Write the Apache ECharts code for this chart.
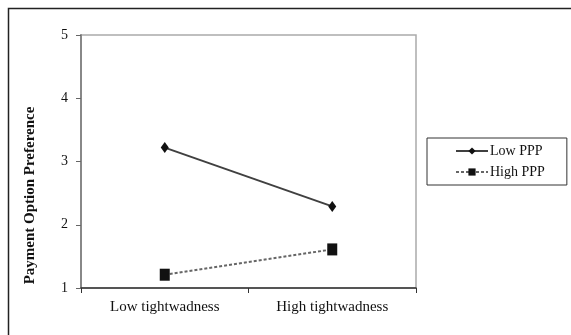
<!DOCTYPE html>
<html>
<head>
<meta charset="utf-8">
<script src="https://cdn.jsdelivr.net/npm/echarts@6/dist/echarts.min.js"></script>
<style>
  html, body { margin: 0; padding: 0; background: #fff; }
  #chart { width: 571px; height: 335px; }
</style>
</head>
<body>
<div id="chart"></div>
<script>
const categories = ['Low tightwadness', 'High tightwadness']
const lowPPP = [3.22, 2.29]
const highPPP = [1.21, 1.61]
const yTicks = [1, 2, 3, 4, 5]

const FONT = '"Liberation Serif", "Times New Roman", serif'

const chart = echarts.init(document.getElementById('chart'))

chart.setOption({
  animation: false,
  backgroundColor: '#fff',
  // outer frame, runs off the right and bottom of the picture
  graphic: [{
    type: 'rect',
    shape: { x: 8.5, y: 8.5, width: 600, height: 400 },
    style: { fill: 'none', stroke: '#222', lineWidth: 1.5 },
    silent: true
  }],
  grid: {
    left: 81, right: 155, top: 35, bottom: 47,
    show: true,
    borderColor: '#aaa',
    borderWidth: 1.5
  },
  legend: {
    orient: 'vertical',
    left: 427, top: 138,
    borderColor: '#333',
    borderWidth: 1,
    padding: [6, 22, 6, 28],
    itemGap: 7,
    itemWidth: 32,
    itemHeight: 9,
    textStyle: { fontFamily: FONT, fontSize: 14, color: '#111', padding: [0, 0, 0, -3] },
    data: ['Low PPP', 'High PPP']
  },
  xAxis: {
    type: 'category',
    data: categories,
    boundaryGap: true,
    axisLine: { lineStyle: { color: '#333', width: 1.5 } },
    axisTick: { show: true, length: 5, lineStyle: { color: '#333' } },
    axisLabel: { fontFamily: FONT, fontSize: 15, color: '#111', margin: 12 },
    splitLine: { show: false }
  },
  yAxis: {
    type: 'value',
    min: yTicks[0],
    max: yTicks[yTicks.length - 1],
    interval: 1,
    name: 'Payment Option Preference',
    nameLocation: 'middle',
    nameGap: 43,
    nameTextStyle: {
      fontFamily: FONT, fontSize: 15, fontWeight: 'bold', color: '#111',
      padding: [0, 68, 0, 0]
    },
    axisLine: { show: true, lineStyle: { color: '#888', width: 2 } },
    axisTick: { show: true, length: 5, lineStyle: { color: '#666' } },
    axisLabel: { fontFamily: FONT, fontSize: 14, color: '#111', margin: 13 },
    splitLine: { show: false }
  },
  series: [
    {
      name: 'Low PPP',
      type: 'line',
      data: lowPPP,
      symbol: 'diamond',
      symbolSize: [8, 11],
      itemStyle: { color: '#111' },
      lineStyle: { color: '#404040', width: 2 }
    },
    {
      name: 'High PPP',
      type: 'line',
      data: highPPP,
      symbol: 'rect',
      symbolSize: [10, 12],
      itemStyle: { color: '#111' },
      lineStyle: { color: '#666', width: 2, type: [3, 2] }
    }
  ]
})
</script>
</body>
</html>
